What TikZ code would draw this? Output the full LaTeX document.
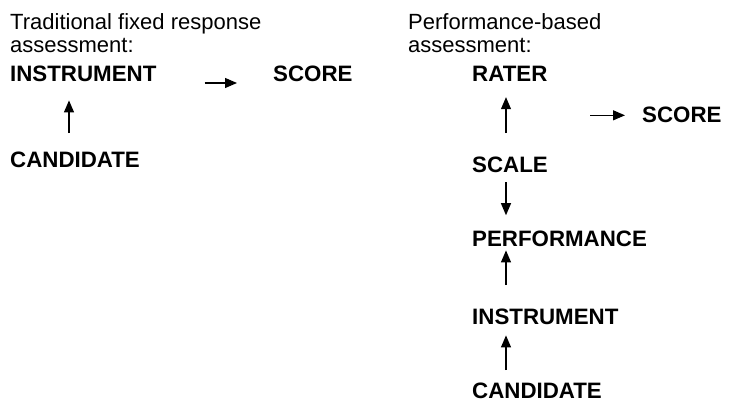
\documentclass[tikz,border=0pt]{standalone}
\usepackage{fontspec}
\setmainfont{Liberation Sans}
\usetikzlibrary{arrows.meta}
\tikzset{
  heading/.style={anchor=base west,inner sep=0pt,font=\fontsize{22}{26}\selectfont},
  item/.style={anchor=base west,inner sep=0pt,font=\fontsize{22.3}{26}\selectfont\bfseries},
  arr/.style={line width=1.1pt,-{Triangle[length=12pt,width=10pt]}}
}
\begin{document}
\begin{tikzpicture}[x=1pt,y=-1pt]
      \useasboundingbox (0,0) rectangle (753,403);
      % fixed response
      \node[heading] (tradA) at (10,30) {Traditional fixed response};
      \node[heading] (tradB) at (10,53) {assessment:};
      \node[item] (instrL) at (10,82) {INSTRUMENT};
      \node[item] (scoreL) at (273,82) {SCORE};
      \node[item] (candL) at (10,168) {CANDIDATE};
      \coordinate (lx) at (69,0);
      \draw[arr] ([yshift=19pt]candL.north -| lx) -- ([yshift=-18pt]instrL.south -| lx);
      \draw[arr] ([xshift=48pt,yshift=-1pt]instrL.base east) -- ([xshift=-36pt,yshift=-1pt]scoreL.base west);
      % performance based
      \node[heading] (perfA) at (408,30) {Performance-based};
      \node[heading] (perfB) at (408,53) {assessment:};
      \node[item] (rater) at (472,82) {RATER};
      \node[item] (scoreR) at (642,123) {SCORE};
      \node[item] (scale) at (472,173) {SCALE};
      \node[item] (perf) at (472,247) {PERFORMANCE};
      \node[item] (instrR) at (472,325) {INSTRUMENT};
      \node[item] (candR) at (472,399) {CANDIDATE};
      \coordinate (rx) at (506,0);
      \draw[arr] ([yshift=24pt]scale.north -| rx) -- ([yshift=-15pt]rater.south -| rx);
      \draw[arr] ([xshift=-52pt]scoreR.west) -- ([xshift=-17pt]scoreR.west);
      \draw[arr] ([yshift=-9pt]scale.south -| rx) -- ([yshift=16pt]perf.north -| rx);
      \draw[arr] ([yshift=24pt]instrR.north -| rx) -- ([yshift=-3pt]perf.south -| rx);
      \draw[arr] ([yshift=13pt]candR.north -| rx) -- ([yshift=-10pt]instrR.south -| rx);
\end{tikzpicture}
\end{document}
